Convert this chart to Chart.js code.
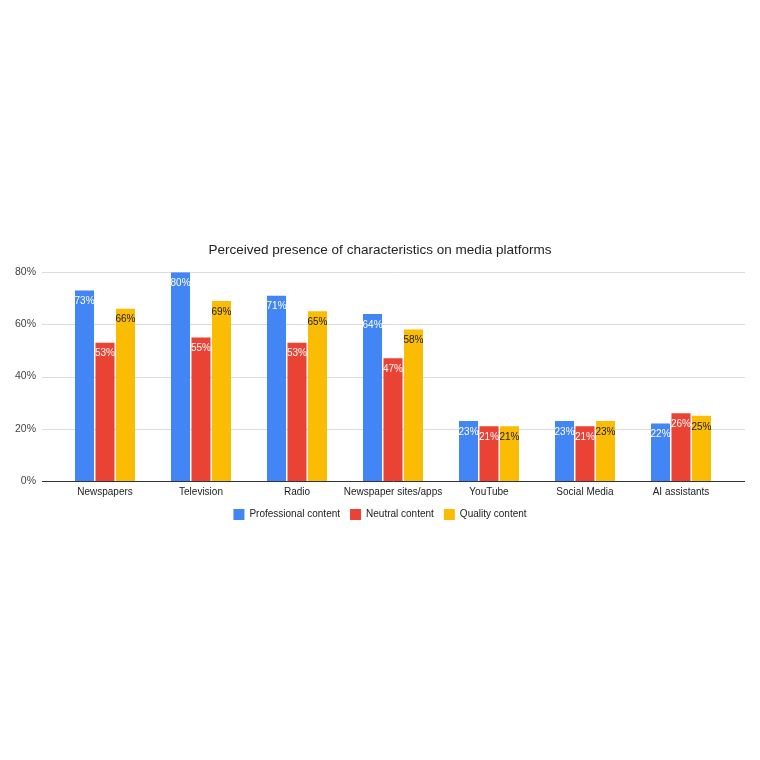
<!DOCTYPE html>
<html><head><meta charset="utf-8">
<script src="https://cdn.jsdelivr.net/npm/chart.js@4.4.0/dist/chart.umd.min.js"></script>
<style>html,body{margin:0;padding:0;background:#fff;}canvas{display:block;}</style>
</head><body>
<canvas id="c" width="760" height="760"></canvas>
<script>
const categories = ["Newspapers","Television","Radio","Newspaper sites/apps","YouTube","Social Media","AI assistants"];
const professional = [73,80,71,64,23,23,22];
const neutral = [53,55,53,47,21,21,26];
const quality = [66,69,65,58,21,23,25];
const seriesNames = ["Professional content","Neutral content","Quality content"];
const yTicks = [0,20,40,60,80];
const titleText = "Perceived presence of characteristics on media platforms";

const FONT = "'Liberation Sans', Arial, sans-serif";

const gridPlugin = {
  id: 'wideGrid',
  beforeDatasetsDraw(chart) {
    const {ctx, chartArea} = chart;
    const y = chart.scales.y;
    const x0 = chartArea.left - 15, x1 = chartArea.right + 16;
    ctx.save();
    y.ticks.forEach(t => {
      const py = Math.round(y.getPixelForValue(t.value)) + 0.5;
      ctx.strokeStyle = t.value === 0 ? '#333333' : '#dcdcdc';
      ctx.lineWidth = 1;
      ctx.beginPath(); ctx.moveTo(x0, py); ctx.lineTo(x1, py); ctx.stroke();
    });
    ctx.restore();
  }
};

const labelPlugin = {
  id: 'barLabels',
  afterDatasetsDraw(chart) {
    const {ctx} = chart;
    ctx.save();
    ctx.font = "10px " + FONT;
    ctx.textAlign = 'center';
    ctx.textBaseline = 'middle';
    chart.data.datasets.forEach((ds, i) => {
      const meta = chart.getDatasetMeta(i);
      meta.data.forEach((el, j) => {
        ctx.fillStyle = i === 2 ? '#202020' : '#ffffff';
        ctx.fillText(ds.data[j] + '%', el.x, el.y + 11);
      });
    });
    ctx.restore();
  }
};

new Chart(document.getElementById('c'), {
  type: 'bar',
  data: {
    labels: categories,
    datasets: [
      {label: seriesNames[0], data: professional, backgroundColor: '#4285F4'},
      {label: seriesNames[1], data: neutral, backgroundColor: '#EA4335'},
      {label: seriesNames[2], data: quality, backgroundColor: '#FBBC04'}
    ]
  },
  options: {
    responsive: false,
    animation: false,
    devicePixelRatio: 1,
    layout: {padding: {top: 242, bottom: 230, left: 31, right: 31}},
    datasets: {bar: {categoryPercentage: 0.64, barPercentage: 0.93}},
    plugins: {
      title: {display: true, text: titleText, color: '#222222',
        font: {family: FONT, size: 13.5, weight: 'normal'}, padding: {top: 0, bottom: 14}},
      legend: {position: 'bottom', labels: {boxWidth: 11, boxHeight: 11, color: '#222222',
        font: {family: FONT, size: 10}, padding: 10}},
      tooltip: {enabled: false}
    },
    scales: {
      x: {
        afterFit(scale) { scale.height -= 4; },
        grid: {display: false, drawTicks: false},
        border: {display: false},
        ticks: {color: '#222222', font: {family: FONT, size: 10}, padding: 5, maxRotation: 0, autoSkip: false}
      },
      y: {
        min: 0, max: 80,
        afterBuildTicks(scale) { scale.ticks = yTicks.map(v => ({value: v})); },
        afterFit(scale) { scale.width = 26; },
        grid: {display: false, drawTicks: false},
        border: {display: false},
        ticks: {color: '#444444', font: {family: FONT, size: 10.5}, mirror: true, crossAlign: 'far', padding: -42,
          callback: v => v + '%'}
      }
    }
  },
  plugins: [gridPlugin, labelPlugin]
});
</script>
</body></html>
